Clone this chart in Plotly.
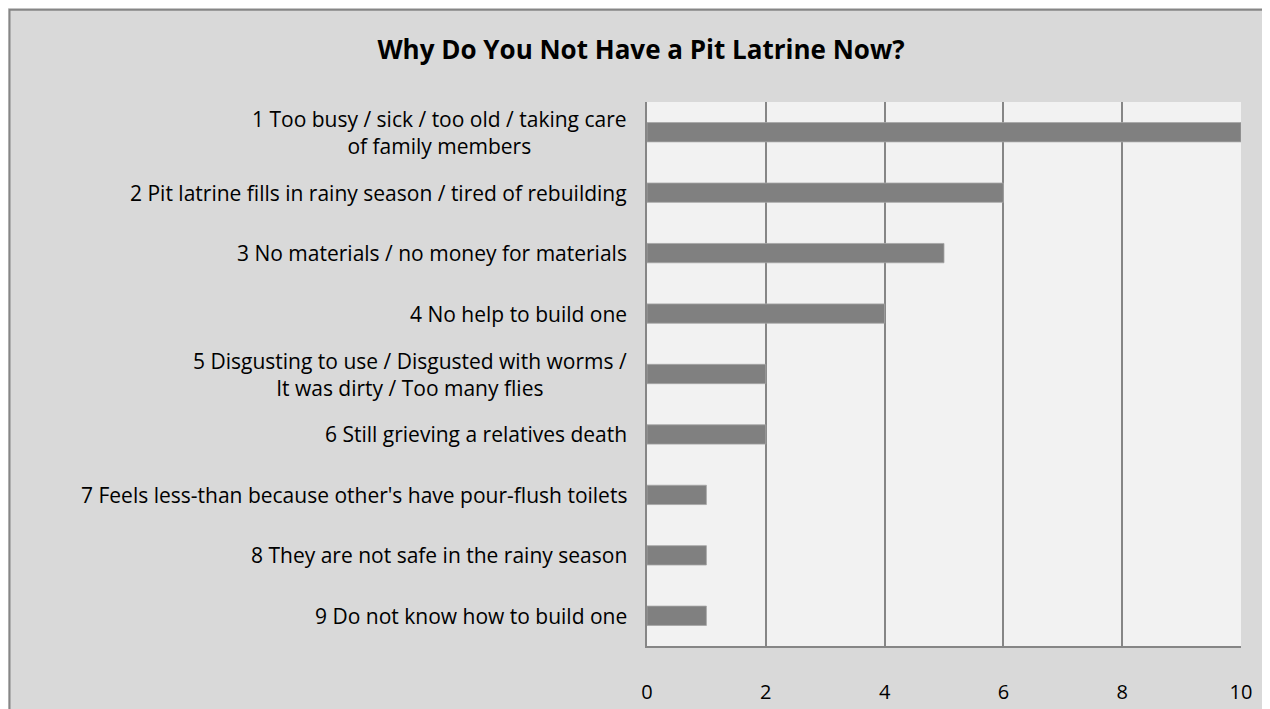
import plotly.graph_objects as go

labels = [
    "1 Too busy / sick / too old / taking care<br>of family members",
    "2 Pit latrine fills in rainy season / tired of rebuilding",
    "3 No materials / no money for materials",
    "4 No help to build one",
    "5 Disgusting to use / Disgusted with worms /<br>It was dirty / Too many flies",
    "6 Still grieving a relatives death",
    "7 Feels less-than because other's have pour-flush toilets",
    "8 They are not safe in the rainy season",
    "9 Do not know how to build one",
]
values = [10, 6, 5, 4, 2, 2, 1, 1, 1]
x_ticks = [0, 2, 4, 6, 8, 10]
title_text = "Why Do You Not Have a Pit Latrine Now?"

FONT = "Open Sans"
W, H = 1270, 709
L, R, T, B = 639, 37, 93.5, 67.5
pw, ph = W - L - R, H - T - B

def px_x(p):
    return (p - L) / pw

def px_y(p):
    return (H - B - p) / ph

fig = go.Figure()
fig.add_trace(go.Bar(
    x=values, y=labels, orientation="h",
    marker=dict(color="#808080", line=dict(color="#A6A6A6", width=0.8)),
    hoverinfo="x+y",
))

for lab in labels:
    fig.add_annotation(
        x=0, xref="paper", y=lab, yref="y",
        text=lab, showarrow=False, xanchor="right", yanchor="middle",
        align="center", xshift=-18,
        font=dict(family=FONT, size=21, color="#000000"),
    )

# outer chart border (top and left visible)
fig.add_shape(
    type="rect", xref="paper", yref="paper",
    x0=px_x(1.5), x1=px_x(1400), y0=px_y(900), y1=px_y(0.5),
    fillcolor="rgba(0,0,0,0)", line=dict(color="#868686", width=2), layer="below",
)

fig.update_layout(
    width=W, height=H,
    margin=dict(l=L, r=R, t=T, b=B),
    paper_bgcolor="#D9D9D9",
    plot_bgcolor="#F2F2F2",
    showlegend=False,
    bargap=0.68,
    title=dict(
        text="<b>" + title_text + "</b>",
        x=633 / W, xanchor="center", xref="container",
        y=1 - 42 / H, yanchor="middle", yref="container",
        font=dict(family=FONT, size=26, color="#000000"),
    ),
    xaxis=dict(
        range=[0, 10], tickvals=x_ticks, showgrid=True,
        gridcolor="#868686", gridwidth=1.5, zeroline=False,
        showline=True, linecolor="#868686", linewidth=1.5,
        ticks="", ticklabelstandoff=27,
        tickfont=dict(family=FONT, size=20, color="#000000"),
        fixedrange=True,
    ),
    yaxis=dict(
        autorange="reversed", showticklabels=False, showgrid=False,
        showline=True, linecolor="#868686", linewidth=1.5, ticks="",
        fixedrange=True,
    ),
)

fig.write_html("out.html")
